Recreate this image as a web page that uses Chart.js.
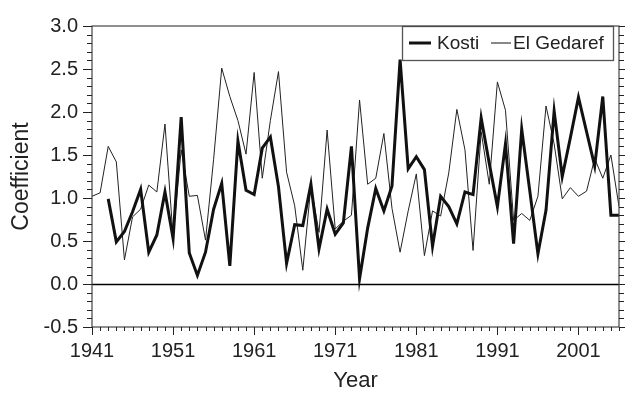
<!DOCTYPE html>
<html>
<head>
<meta charset="utf-8">
<script src="https://cdn.jsdelivr.net/npm/chart.js@4.4.1/dist/chart.umd.min.js"></script>
<style>
  html, body { margin: 0; padding: 0; background: #fff; }
  #chart { display: block; }
</style>
</head>
<body>
<canvas id="chart" width="625" height="394"></canvas>
<script>
// Dados
const gedarefYears = [];
for (let a = 1941; a <= 2006; a++) gedarefYears.push(a);
const gedaref = [
  1.02, 1.06, 1.60, 1.42, 0.28, 0.78, 0.87, 1.15, 1.07, 1.86,
  0.55, 1.56, 1.02, 1.03, 0.51, 1.45, 2.51, 2.18, 1.90, 1.51,
  2.46, 1.23, 1.90, 2.47, 1.30, 0.91, 0.16, 1.14, 0.60, 1.79,
  0.64, 0.73, 0.80, 2.14, 1.16, 1.23, 1.75, 0.88, 0.37, 0.85,
  1.28, 0.33, 0.85, 0.79, 1.29, 2.03, 1.56, 0.39, 1.77, 1.16,
  2.35, 2.02, 0.74, 0.82, 0.74, 1.02, 2.07, 1.63, 0.99, 1.12,
  1.02, 1.08, 1.46, 1.23, 1.50, 0.90
];
const kostiYears = gedarefYears.slice(2);
const kosti = [
              0.99, 0.49, 0.61, 0.84, 1.10, 0.37, 0.57, 1.07,
  0.53, 1.94, 0.36, 0.10, 0.37, 0.87, 1.17, 0.21, 1.66, 1.09,
  1.04, 1.58, 1.71, 1.13, 0.24, 0.69, 0.68, 1.16, 0.41, 0.87,
  0.58, 0.71, 1.60, 0.06, 0.65, 1.11, 0.85, 1.14, 2.61, 1.34,
  1.48, 1.33, 0.44, 1.02, 0.90, 0.70, 1.07, 1.04, 1.93, 1.40,
  0.90, 1.63, 0.47, 1.80, 1.08, 0.35, 0.86, 2.01, 1.25, 1.70,
  2.17, 1.77, 1.37, 2.18, 0.80, 0.80
];
const xTicks = [1941, 1951, 1961, 1971, 1981, 1991, 2001];
const seriesNames = ['Kosti', 'El Gedaref'];

const fonte = "'Liberation Sans', Arial, Helvetica, sans-serif";

// Eixos com marcas menores, moldura e linha do zero
const moldura = {
  id: 'moldura',
  beforeDatasetsDraw(chart) {
    const { ctx, chartArea: a, scales: { y } } = chart;
    const y0 = Math.round(y.getPixelForValue(0)) + 0.5;
    ctx.save();
    ctx.strokeStyle = '#000';
    ctx.lineWidth = 1.3;
    ctx.beginPath();
    ctx.moveTo(a.left, y0);
    ctx.lineTo(a.right, y0);
    ctx.stroke();
    ctx.restore();
  },
  afterDraw(chart) {
    const { ctx, chartArea: a, scales: { x, y } } = chart;
    ctx.save();
    ctx.strokeStyle = '#444';
    ctx.lineWidth = 1.2;
    ctx.strokeRect(a.left, a.top, a.right - a.left, a.bottom - a.top);
    ctx.strokeStyle = '#222';
    ctx.lineWidth = 1;
    ctx.beginPath();
    for (let i = -5; i <= 30; i++) {
      const py = Math.round(y.getPixelForValue(i / 10)) + 0.5;
      const len = i % 5 === 0 ? 9 : 5;
      ctx.moveTo(a.left, py); ctx.lineTo(a.left - len, py);
      ctx.moveTo(a.right, py); ctx.lineTo(a.right + len, py);
    }
    for (let ano = 1941; ano <= 2006; ano++) {
      const px = Math.round(x.getPixelForValue(ano)) + 0.5;
      const len = (ano - 1941) % 10 === 0 ? 8 : 4;
      ctx.moveTo(px, a.bottom); ctx.lineTo(px, a.bottom + len);
    }
    ctx.stroke();
    ctx.restore();
  },
  afterDatasetsDraw(chart) {
    // legenda dentro da área do gráfico
    const { ctx, chartArea: a } = chart;
    const bx = 402, by = 26, bw = a.right - 6 - bx, bh = 34;
    const cy = by + bh / 2;
    ctx.save();
    ctx.fillStyle = '#fff';
    ctx.fillRect(bx, by, bw, bh);
    ctx.strokeStyle = '#555';
    ctx.lineWidth = 1.3;
    ctx.strokeRect(bx + 0.5, by + 0.5, bw, bh);
    ctx.strokeStyle = '#111';
    ctx.lineWidth = 3;
    ctx.beginPath(); ctx.moveTo(409, cy); ctx.lineTo(431, cy); ctx.stroke();
    ctx.lineWidth = 1;
    ctx.beginPath(); ctx.moveTo(491, cy); ctx.lineTo(511, cy); ctx.stroke();
    ctx.fillStyle = '#222';
    ctx.font = '19px ' + fonte;
    ctx.textBaseline = 'middle';
    ctx.fillText(seriesNames[0], 437, cy + 1);
    ctx.fillText(seriesNames[1], 513, cy + 1);
    ctx.restore();
  }
};

new Chart(document.getElementById('chart').getContext('2d'), {
  type: 'line',
  data: {
    datasets: [{
      label: seriesNames[0],
      data: kostiYears.map((ano, i) => ({ x: ano, y: kosti[i] })),
      borderColor: '#111',
      borderWidth: 3,
      pointRadius: 0,
      tension: 0
    }, {
      label: seriesNames[1],
      data: gedarefYears.map((ano, i) => ({ x: ano, y: gedaref[i] })),
      borderColor: '#222',
      borderWidth: 1,
      pointRadius: 0,
      tension: 0
    }]
  },
  options: {
    responsive: false,
    animation: false,
    devicePixelRatio: 1,
    layout: { padding: { left: 0, right: 6, top: 20, bottom: 0 } },
    plugins: { legend: { display: false }, tooltip: { enabled: false } },
    scales: {
      x: {
        type: 'linear',
        min: 1941,
        max: 2006,
        afterBuildTicks: s => { s.ticks = xTicks.map(v => ({ value: v })); },
        afterFit: s => { s.height = 67; },
        grid: { display: false, drawTicks: false },
        border: { display: false },
        ticks: {
          padding: 12,
          color: '#222',
          font: { family: fonte, size: 20 },
          maxRotation: 0,
          autoSkip: false,
          callback: v => String(v)
        },
        title: {
          display: true,
          text: 'Year',
          color: '#222',
          font: { family: fonte, size: 22 },
          padding: { top: 0, bottom: 0 }
        }
      },
      y: {
        min: -0.5,
        max: 3.0,
        afterFit: s => { s.width = 92; },
        grid: { display: false, drawTicks: false },
        border: { display: false },
        ticks: {
          stepSize: 0.5,
          padding: 14,
          color: '#222',
          font: { family: fonte, size: 20 },
          callback: v => v.toFixed(1)
        },
        title: {
          display: true,
          text: 'Coefficient',
          color: '#222',
          font: { family: fonte, size: 23 },
          padding: { top: 8, bottom: 0 }
        }
      }
    }
  },
  plugins: [moldura]
});
</script>
</body>
</html>
